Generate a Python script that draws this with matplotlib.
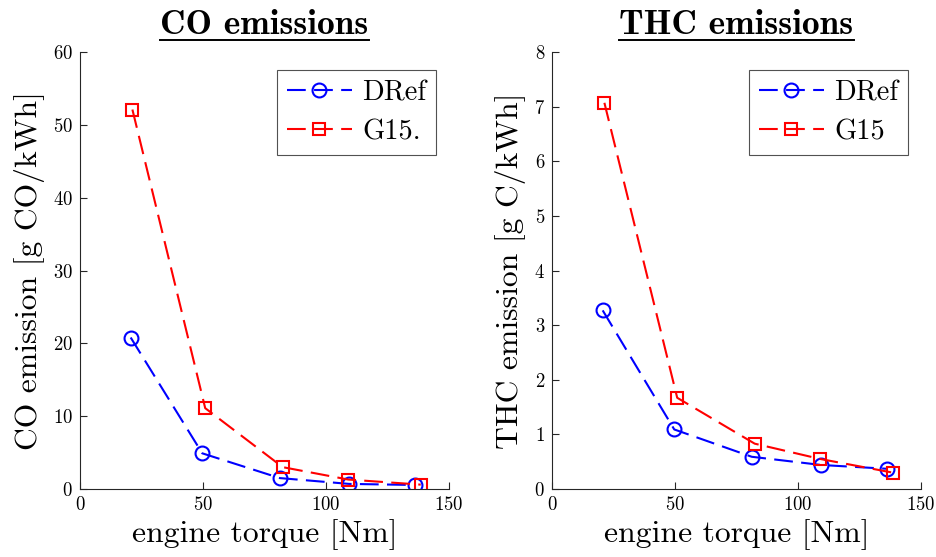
import matplotlib
matplotlib.use("Agg")
import matplotlib.pyplot as plt
from matplotlib.lines import Line2D

plt.rcParams['font.family'] = ['cmr10', 'DejaVu Serif']
plt.rcParams['axes.formatter.use_mathtext'] = True
plt.rcParams['mathtext.fontset'] = 'cm'

# Data
torque_dref = [20.6, 49.7, 81.2, 109.4, 136.3]
torque_g15 = [21.3, 50.9, 82.4, 109.0, 138.5]
co_dref = [20.8, 4.9, 1.5, 0.7, 0.55]
co_g15 = [52.1, 11.1, 3.0, 1.3, 0.6]
thc_dref = [3.27, 1.09, 0.59, 0.44, 0.37]
thc_g15 = [7.07, 1.67, 0.83, 0.55, 0.30]

titles = ["CO emissions", "THC emissions"]
ylabels = ["CO emission [g CO/kWh]", "THC emission [g C/kWh]"]
xlabel = "engine torque [Nm]"
legend_labels = [["DRef", "G15."], ["DRef", "G15"]]
xticks = [0, 50, 100, 150]
yticks_list = [[0, 10, 20, 30, 40, 50, 60], [0, 1, 2, 3, 4, 5, 6, 7, 8]]
ylims = [(0, 60), (0, 8)]

W, H = 936, 557
fig = plt.figure(figsize=(W / 100, H / 100), dpi=100)

axes_px = [(80, 52, 369, 437), (552, 52, 369, 437)]
series = [(co_dref, co_g15), (thc_dref, thc_g15)]
axcol = '#262626'

title_texts = []
for i, (x0, y0, w, h) in enumerate(axes_px):
    ax = fig.add_axes([x0 / W, 1 - (y0 + h) / H, w / W, h / H])
    d, g = series[i]
    ax.plot(torque_dref, d, color='#0000ff', linestyle='--', dashes=(9, 4),
            linewidth=1.5, marker='o', markersize=10, markerfacecolor='none',
            markeredgewidth=1.5, label=legend_labels[i][0])
    ax.plot(torque_g15, g, color='#ff0000', linestyle='--', dashes=(9, 4),
            linewidth=1.5, marker='s', markersize=8.5, markerfacecolor='none',
            markeredgewidth=1.5, label=legend_labels[i][1])
    ax.set_xlim(0, 150)
    ax.set_ylim(*ylims[i])
    ax.set_xticks(xticks)
    ax.set_yticks(yticks_list[i])
    for s in ['top', 'right']:
        ax.spines[s].set_visible(False)
    for s in ['left', 'bottom']:
        ax.spines[s].set_color(axcol)
        ax.spines[s].set_linewidth(0.8)
    ax.tick_params(direction='in', length=5, width=0.8, color=axcol,
                   labelsize=13.5, labelcolor='black', pad=5)
    ax.set_xlabel(xlabel, fontsize=22.8, labelpad=4)
    ax.set_ylabel(ylabels[i], fontsize=22.8, labelpad=6)
    t = ax.set_title(titles[i], fontsize=25.5, family='cmb10', pad=13)
    title_texts.append(t)
    leg = ax.legend(loc='upper right', bbox_to_anchor=(0.965, 0.959),
                    fontsize=20.5, handlelength=2.3, frameon=True, fancybox=False,
                    borderpad=0.35, labelspacing=0.45, handletextpad=0.35,
                    borderaxespad=0)
    leg.get_frame().set_edgecolor(axcol)
    leg.get_frame().set_linewidth(0.8)

fig.canvas.draw()
renderer = fig.canvas.get_renderer()
for t in title_texts:
    bb = t.get_window_extent(renderer)
    y = bb.y0 + 1
    fig.add_artist(Line2D([bb.x0 / W, bb.x1 / W], [y / H, y / H],
                          transform=fig.transFigure, color='black', linewidth=1.4))

fig.savefig("out.png", dpi=100)
